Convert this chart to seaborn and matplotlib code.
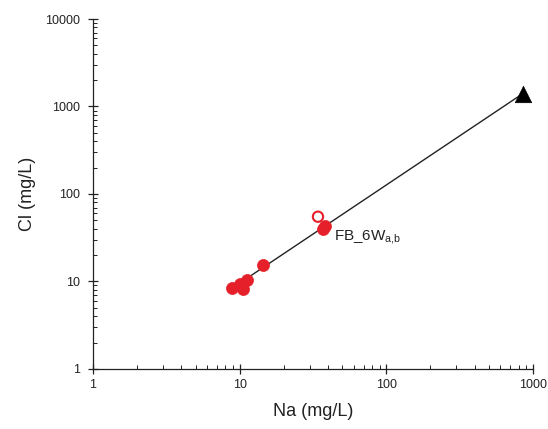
import numpy as np
import pandas as pd
import matplotlib
matplotlib.use("Agg")
import matplotlib.pyplot as plt
import matplotlib.ticker as mticker
import seaborn as sns

sns.set_theme(style="ticks")
plt.rcParams["font.family"] = ["Liberation Sans", "DejaVu Sans"]
plt.rcParams["mathtext.fontset"] = "custom"
plt.rcParams["mathtext.rm"] = "Liberation Sans"
plt.rcParams["mathtext.it"] = "Liberation Sans"

# Sample concentrations (mg/L)
na_samples = [8.9, 10.0, 10.5, 11.2, 14.4, 37.0, 38.0]
cl_samples = [8.5, 9.4, 8.3, 10.5, 15.6, 40.0, 43.0]

# Open-circle sample
na_open = [34.2]
cl_open = [55.0]

# Seawater end member
na_sea = [850.0]
cl_sea = [1400.0]

# Mixing line end points (fresh end member -> seawater)
na_mix = [9.0, 850.0]
cl_mix = [8.5, 1400.0]

label_text = "FB_6W$_{\\mathrm{a{,}b}}$"
label_na, label_cl = 44.0, 32.0

red = "#e5202a"

fig = plt.figure(figsize=(5.48, 4.29), dpi=100)
ax = fig.add_axes([0.1697, 0.1399, 0.8029, 0.8158])

sns.lineplot(x=na_mix, y=cl_mix, ax=ax, color="#222222", linewidth=1.0,
             estimator=None, sort=False, legend=False)
sns.scatterplot(x=na_samples, y=cl_samples, ax=ax, color=red, s=75,
                edgecolor=red, linewidth=0.5, legend=False, zorder=3)
sns.scatterplot(x=na_open, y=cl_open, ax=ax, facecolor="none", s=55,
                edgecolor=red, linewidth=1.5, legend=False, zorder=3)
sns.scatterplot(x=na_sea, y=cl_sea, ax=ax, marker="^", color="black", s=140,
                edgecolor="black", linewidth=0.5, legend=False, zorder=4)

ax.text(label_na, label_cl, label_text, fontsize=11, va="center", ha="left",
        color="#222222")

ax.set_xscale("log")
ax.set_yscale("log")
ax.set_xlim(1, 1000)
ax.set_ylim(1, 10000)

ax.xaxis.set_major_locator(mticker.FixedLocator([1, 10, 100, 1000]))
ax.yaxis.set_major_locator(mticker.FixedLocator([1, 10, 100, 1000, 10000]))
fmt = mticker.FuncFormatter(lambda v, p: f"{v:g}")
ax.xaxis.set_major_formatter(fmt)
ax.yaxis.set_major_formatter(fmt)
ax.xaxis.set_minor_locator(mticker.LogLocator(base=10, subs=np.arange(2, 10)))
ax.yaxis.set_minor_locator(mticker.LogLocator(base=10, subs=np.arange(2, 10)))
ax.xaxis.set_minor_formatter(mticker.NullFormatter())
ax.yaxis.set_minor_formatter(mticker.NullFormatter())

ax.tick_params(which="major", direction="inout", length=7, width=0.9,
               labelsize=9, colors="#222222", pad=4)
ax.tick_params(axis="y", which="major", pad=6)
ax.tick_params(which="minor", direction="in", length=3, width=0.7,
               colors="#222222")

for side in ("top", "right"):
    ax.spines[side].set_visible(False)
for side in ("left", "bottom"):
    ax.spines[side].set_linewidth(0.9)
    ax.spines[side].set_color("#222222")

ax.set_xlabel("Na (mg/L)", fontsize=13, color="#222222", labelpad=8)
ax.set_ylabel("Cl (mg/L)", fontsize=13, color="#222222", labelpad=6)

fig.savefig("out.png", dpi=100)
